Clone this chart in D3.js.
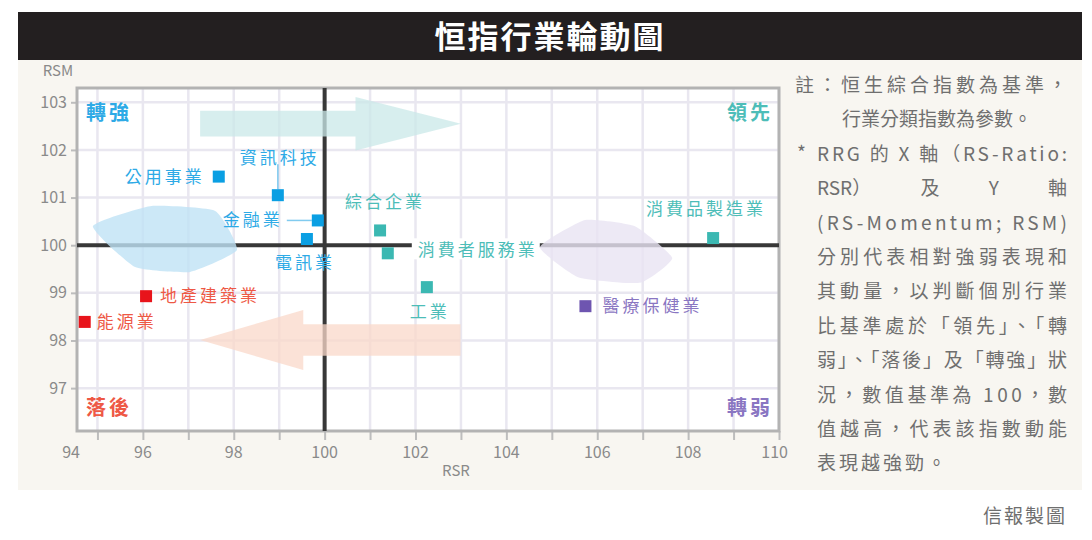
<!DOCTYPE html>
<html>
<head>
<meta charset="utf-8">
<script src="https://cdn.jsdelivr.net/npm/d3@7"></script>
<style>
  body { margin: 0; background: #fff; }
  svg text { font-family: "Noto Sans CJK TC", "Noto Sans", sans-serif; }
</style>
</head>
<body>
<div id="chart"></div>
<script>
// sectors and their latest RS-Ratio / RS-Momentum readings
var sectors = ["公用事業", "資訊科技", "金融業", "電訊業", "綜合企業", "消費者服務業", "工業", "消費品製造業", "地產建築業", "能源業", "醫療保健業"]
var rsr = [97.67, 98.97, 99.85, 99.61, 101.22, 101.39, 102.25, 108.55, 96.07, 94.72, 105.74]
var rsm = [101.44, 101.05, 100.52, 100.13, 100.31, 99.83, 99.12, 100.15, 98.93, 98.39, 98.72]
var group = ["轉強", "轉強", "轉強", "轉強", "領先", "領先", "領先", "領先", "落後", "落後", "轉弱"]

var xTicks = [95, 96, 97, 98, 99, 100, 101, 102, 103, 104, 105, 106, 107, 108, 109, 110]
var xTickLabels = [94, 96, 98, 100, 102, 104, 106, 108, 110]
var yTicks = [97, 98, 99, 100, 101, 102, 103]

var notes = [
  "註：恒生綜合指數為基準，",
  "行業分類指數為參數。",
  "RRG 的 X 軸（RS-Ratio:",
  "RSR）|及|Y|軸",
  "(RS-Momentum; RSM)",
  "分別代表相對強弱表現和",
  "其動量，以判斷個別行業",
  "比基準處於「領先」、「轉",
  "弱」、「落後」及「轉強」狀",
  "況，數值基準為 100，數",
  "值越高，代表該指數動能",
  "表現越強勁。"
]

// colours per quadrant group
var colors = {
  "轉強": {mark: "#0a9fe3", text: "#2eaae6"},
  "領先": {mark: "#3bb8b2", text: "#4dbdb8"},
  "落後": {mark: "#e8141b", text: "#ee5845"},
  "轉弱": {mark: "#6e55b0", text: "#8a76c2"}
}

// label placement (offsets from the marker, px)
var labelPos = [
  {dx: -14, dy: 0, anchor: "end"},
  {dx: 2, dy: -37, anchor: "middle", lead: "v"},
  {dx: -35, dy: 0, anchor: "end", lead: "h"},
  {dx: -2, dy: 24, anchor: "middle"},
  {dx: 5, dy: -28, anchor: "middle"},
  {dx: 30, dy: -3, anchor: "start", bg: true},
  {dx: 3, dy: 25, anchor: "middle"},
  {dx: -7, dy: -29, anchor: "middle"},
  {dx: 14, dy: 0, anchor: "start"},
  {dx: 12, dy: 0, anchor: "start"},
  {dx: 17, dy: 0, anchor: "start"}
]

var W = 1092, H = 540
var pl = 77, pr = 779, pt = 88, pb = 431

var svg = d3.select("#chart").append("svg")
  .attr("width", W).attr("height", H)

// title bar + panel
svg.append("rect").attr("x", 18).attr("y", 12).attr("width", 1064).attr("height", 48).attr("fill", "#231f20")
svg.append("text").attr("x", 550).attr("y", 48).attr("text-anchor", "middle")
  .attr("fill", "#fff").style("font-size", "31px").style("font-weight", "bold").style("letter-spacing", "2px")
  .text("恒指行業輪動圖")
svg.append("rect").attr("x", 18).attr("y", 60).attr("width", 1064).attr("height", 430).attr("fill", "#f8f6f1")

var x = d3.scaleLinear().domain([94.55, 110]).range([pl, pr]).clamp(true)
var y = d3.scaleLinear().domain([96.1, 103.3]).range([pb, pt])

svg.append("rect").attr("x", pl).attr("y", pt).attr("width", pr - pl).attr("height", pb - pt).attr("fill", "#fff")

// grid
svg.append("g").selectAll("line").data(xTicks).enter().append("line")
  .attr("x1", function(d) {return x(d)}).attr("x2", function(d) {return x(d)})
  .attr("y1", pt).attr("y2", pb)
  .style("stroke", "#e9e7f0").style("stroke-width", 2.5)
svg.append("g").selectAll("line").data(yTicks).enter().append("line")
  .attr("y1", function(d) {return y(d)}).attr("y2", function(d) {return y(d)})
  .attr("x1", pl).attr("x2", pr)
  .style("stroke", "#e9e7f0").style("stroke-width", 2.5)

// axes
var xAxis = svg.append("g").attr("transform", "translate(0," + pb + ")")
  .call(d3.axisBottom(x).tickValues(xTicks).tickSize(9).tickFormat(""))
xAxis.select(".domain").remove()
xAxis.selectAll("line").style("stroke", "#bdbdbd").style("stroke-width", 2)

svg.append("g").selectAll("text").data(xTickLabels).enter().append("text")
  .attr("x", function(d, i) {
    if (i == 0) return x(d) + 3
    if (i == xTickLabels.length - 1) return x(d) + 9
    return x(d)
  })
  .attr("y", 458)
  .attr("text-anchor", function(d, i) {return (i == 0 || i == xTickLabels.length - 1) ? "end" : "middle"})
  .style("font-size", "16px").style("fill", "#8a8a8a")
  .text(function(d) {return d})

var yAxis = svg.append("g").attr("transform", "translate(" + pl + ",0)")
  .call(d3.axisLeft(y).tickValues(yTicks).tickSize(6).tickPadding(4))
yAxis.select(".domain").remove()
yAxis.selectAll("line").style("stroke", "#bdbdbd").style("stroke-width", 2)
yAxis.selectAll("text").style("font-size", "16px").style("fill", "#8a8a8a").style("font-family", "'Noto Sans CJK TC', sans-serif")

svg.append("text").attr("x", 58).attr("y", 76).attr("text-anchor", "middle")
  .style("font-size", "15px").style("fill", "#8a8a8a").text("RSM")
svg.append("text").attr("x", 456).attr("y", 476).attr("text-anchor", "middle")
  .style("font-size", "15px").style("fill", "#8a8a8a").text("RSR")

// plot frame
svg.append("rect").attr("x", pl).attr("y", pt).attr("width", pr - pl).attr("height", pb - pt)
  .attr("fill", "none").style("stroke", "#b3b3b3").style("stroke-width", 3)

// centre lines at 100
svg.append("line").attr("x1", x(100)).attr("x2", x(100)).attr("y1", pt).attr("y2", pb)
  .style("stroke", "#383838").style("stroke-width", 4)
svg.append("line").attr("x1", pl).attr("x2", pr).attr("y1", y(100)).attr("y2", y(100))
  .style("stroke", "#383838").style("stroke-width", 4)

// rotation arrows (in data units)
function arrow(x0, xh, xt, yc, hb, hh) {
  var p = [[x0, yc - hb], [xh, yc - hb], [xh, yc - hh], [xt, yc], [xh, yc + hh], [xh, yc + hb], [x0, yc + hb]]
  return d3.line().x(function(d) {return x(d[0])}).y(function(d) {return y(d[1])})(p) + "Z"
}
svg.append("path").attr("d", arrow(97.26, 100.68, 103.0, 102.55, 0.27, 0.56))
  .attr("fill", "#c9e8e8").attr("opacity", 0.75)
svg.append("path").attr("d", arrow(102.99, 99.53, 97.26, 98.01, 0.33, 0.63))
  .attr("fill", "#f9d8ca").attr("opacity", 0.75)

var blob = d3.line().x(function(d) {return x(d[0])}).y(function(d) {return y(d[1])}).curve(d3.curveCardinalClosed.tension(0.55))
svg.append("path").attr("d", blob([[94.90, 100.40], [96.16, 100.82], [97.59, 100.72], [98.07, 99.90], [97.04, 99.44], [95.83, 99.54]]))
  .attr("fill", "#bfe2f5").attr("opacity", 0.8)
svg.append("path").attr("d", blob([[104.74, 99.96], [105.73, 100.53], [106.83, 100.40], [107.65, 99.73], [106.94, 99.21], [105.58, 99.33]]))
  .attr("fill", "#e9e4f3").attr("opacity", 0.8)

// quadrant names: name, RSR, RSM, anchor
var quad = [["轉強", 94.55, 102.8, "start"], ["領先", 110, 102.8, "end"], ["落後", 94.55, 96.6, "start"], ["轉弱", 110, 96.6, "end"]]
svg.append("g").selectAll("text").data(quad).enter().append("text")
  .attr("x", function(d) {return d[3] == "start" ? x(d[1]) + 9 : x(d[1]) - 6})
  .attr("y", function(d) {return y(d[2]) + 8})
  .attr("text-anchor", function(d) {return d[3]})
  .style("font-size", "20px").style("font-weight", "bold").style("letter-spacing", "3px")
  .style("fill", function(d) {return colors[d[0]].text})
  .text(function(d) {return d[0]})

// sector points
var pts = sectors.map(function(s, i) {return {name: s, x: rsr[i], y: rsm[i], g: group[i], p: labelPos[i]}})

var lab = svg.append("g").selectAll("g").data(pts).enter().append("g")
lab.each(function(d) {
  var g = d3.select(this)
  var px = x(d.x), py = y(d.y)
  var c = colors[d.g]
  if (d.p.lead == "v") {
    g.append("line").attr("x1", px).attr("x2", px).attr("y1", py + d.p.dy + 6).attr("y2", py - 6)
      .style("stroke", c.text).style("stroke-width", 1.5).style("opacity", 0.6)
  }
  if (d.p.lead == "h") {
    g.append("line").attr("x1", px + d.p.dx + 4).attr("x2", px - 6).attr("y1", py).attr("y2", py)
      .style("stroke", c.text).style("stroke-width", 1.5).style("opacity", 0.6)
  }
  var t = g.append("text").attr("x", px + d.p.dx).attr("y", py + d.p.dy + 6)
    .attr("text-anchor", d.p.anchor)
    .style("font-size", "17px").style("letter-spacing", "3px").style("fill", c.text)
    .text(d.name)
  if (d.p.bg) {
    var bb = t.node().getBBox()
    g.insert("rect", "text").attr("x", bb.x - 6).attr("y", bb.y + 2).attr("width", bb.width + 8).attr("height", bb.height - 4)
      .attr("fill", "#fff")
  }
})

svg.append("g").selectAll("rect").data(pts).enter().append("rect")
  .attr("x", function(d) {return x(d.x) - 6})
  .attr("y", function(d) {return y(d.y) - 6})
  .attr("width", 12).attr("height", 12)
  .attr("fill", function(d) {return colors[d.g].mark})

// notes (justified lines; "|" marks word breaks spread across the line)
var nt = svg.append("g").style("font-size", "19px").style("fill", "#6f6f6f")
notes.forEach(function(s, i) {
  var x0 = 817, len = 250
  if (i == 0) { x0 = 795; len = 272 }
  if (i == 1) { x0 = 842; len = 0 }
  var yy = 92 + i * 34.4
  if (s.indexOf("|") >= 0) {
    var words = s.split("|")
    var tmp = words.map(function(w) {
      return nt.append("text").attr("y", yy).text(w)
    })
    var widths = tmp.map(function(t) {return t.node().getComputedTextLength()})
    var gap = (len - d3.sum(widths)) / (words.length - 1)
    var cx = x0
    tmp.forEach(function(t, k) { t.attr("x", cx); cx += widths[k] + gap })
    return
  }
  var t = nt.append("text").attr("x", x0).attr("y", yy).text(s)
  if (len && i < notes.length - 1) t.attr("textLength", len).attr("lengthAdjust", "spacing")
  if (i == notes.length - 1) t.style("letter-spacing", "3px")
})
nt.append("text").attr("x", 797).attr("y", 160).text("*")

svg.append("text").attr("x", 1067).attr("y", 523).attr("text-anchor", "end")
  .style("font-size", "19px").style("fill", "#6f6f6f").style("letter-spacing", "2px").text("信報製圖")
</script>
</body>
</html>
